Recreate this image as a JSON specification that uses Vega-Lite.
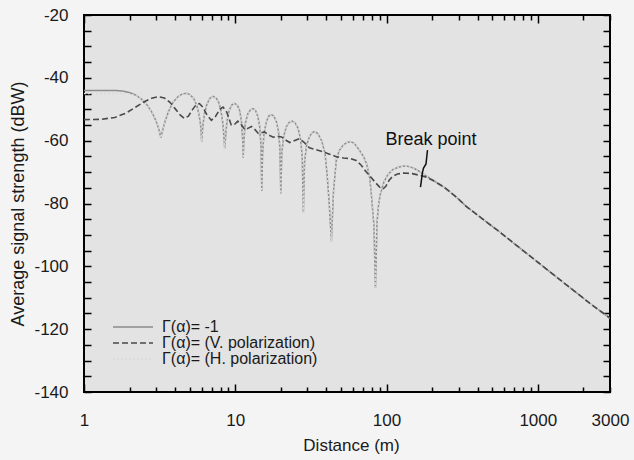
{
  "$schema": "https://vega.github.io/schema/vega-lite/v6.json",
  "width": 526,
  "height": 377,
  "autosize": {"type": "none"},
  "padding": {"left": 84, "top": 15, "right": 24, "bottom": 68},
  "background": "#f4f4f4",
  "config": {
    "font": "Liberation Sans",
    "view": {"fill": "#e3e3e3", "stroke": "#000000", "strokeWidth": 2},
    "axis": {"grid": false, "domain": false, "labelFont": "Liberation Sans", "titleFont": "Liberation Sans", "labelColor": "#1a1a1a", "titleColor": "#1a1a1a", "titleFontWeight": "normal", "tickColor": "#000000", "tickWidth": 1.5},
    "legend": {"orient": "none", "legendX": 41, "legendY": 304, "padding": 0, "symbolType": "M-4,0H4", "symbolSize": 100, "symbolStrokeWidth": 1.5, "labelFontSize": 16, "labelFont": "Liberation Sans", "labelColor": "#1a1a1a", "labelOffset": 21, "rowPadding": 0, "title": null}
  },
  "datasets": {
    "curves": [
      {"series": "Γ(α)= -1", "distance": 1, "power": -44},
      {"series": "Γ(α)= -1", "distance": 1.3, "power": -44},
      {"series": "Γ(α)= -1", "distance": 1.6, "power": -44},
      {"series": "Γ(α)= -1", "distance": 1.8, "power": -44.2},
      {"series": "Γ(α)= -1", "distance": 2.0, "power": -44.7},
      {"series": "Γ(α)= -1", "distance": 2.2, "power": -45.5},
      {"series": "Γ(α)= -1", "distance": 2.4, "power": -46.8},
      {"series": "Γ(α)= -1", "distance": 2.6, "power": -48.5},
      {"series": "Γ(α)= -1", "distance": 2.8, "power": -50.8},
      {"series": "Γ(α)= -1", "distance": 3.0, "power": -53.8},
      {"series": "Γ(α)= -1", "distance": 3.12, "power": -56.2},
      {"series": "Γ(α)= -1", "distance": 3.22, "power": -59},
      {"series": "Γ(α)= -1", "distance": 3.32, "power": -56.5},
      {"series": "Γ(α)= -1", "distance": 3.45, "power": -53.5},
      {"series": "Γ(α)= -1", "distance": 3.65, "power": -50.3},
      {"series": "Γ(α)= -1", "distance": 3.9, "power": -47.6},
      {"series": "Γ(α)= -1", "distance": 4.2, "power": -45.9},
      {"series": "Γ(α)= -1", "distance": 4.5, "power": -45.1},
      {"series": "Γ(α)= -1", "distance": 4.75, "power": -44.9},
      {"series": "Γ(α)= -1", "distance": 5.0, "power": -45.3},
      {"series": "Γ(α)= -1", "distance": 5.3, "power": -46.5},
      {"series": "Γ(α)= -1", "distance": 5.55, "power": -48.6},
      {"series": "Γ(α)= -1", "distance": 5.75, "power": -51.5},
      {"series": "Γ(α)= -1", "distance": 5.9, "power": -55},
      {"series": "Γ(α)= -1", "distance": 6.0, "power": -60.3},
      {"series": "Γ(α)= -1", "distance": 6.1, "power": -55.5},
      {"series": "Γ(α)= -1", "distance": 6.25, "power": -51.5},
      {"series": "Γ(α)= -1", "distance": 6.5, "power": -48.3},
      {"series": "Γ(α)= -1", "distance": 6.8, "power": -46.5},
      {"series": "Γ(α)= -1", "distance": 7.15, "power": -45.9},
      {"series": "Γ(α)= -1", "distance": 7.5, "power": -46.5},
      {"series": "Γ(α)= -1", "distance": 7.8, "power": -48},
      {"series": "Γ(α)= -1", "distance": 8.05, "power": -50.5},
      {"series": "Γ(α)= -1", "distance": 8.3, "power": -55},
      {"series": "Γ(α)= -1", "distance": 8.45, "power": -60},
      {"series": "Γ(α)= -1", "distance": 8.52, "power": -62.6},
      {"series": "Γ(α)= -1", "distance": 8.62, "power": -59},
      {"series": "Γ(α)= -1", "distance": 8.8, "power": -54},
      {"series": "Γ(α)= -1", "distance": 9.1, "power": -50.5},
      {"series": "Γ(α)= -1", "distance": 9.45, "power": -48.7},
      {"series": "Γ(α)= -1", "distance": 9.85, "power": -48.1},
      {"series": "Γ(α)= -1", "distance": 10.3, "power": -48.6},
      {"series": "Γ(α)= -1", "distance": 10.7, "power": -50.5},
      {"series": "Γ(α)= -1", "distance": 11.0, "power": -54},
      {"series": "Γ(α)= -1", "distance": 11.2, "power": -60},
      {"series": "Γ(α)= -1", "distance": 11.28, "power": -65.5},
      {"series": "Γ(α)= -1", "distance": 11.4, "power": -60},
      {"series": "Γ(α)= -1", "distance": 11.65, "power": -54.5},
      {"series": "Γ(α)= -1", "distance": 12.1, "power": -51.5},
      {"series": "Γ(α)= -1", "distance": 12.6, "power": -50.2},
      {"series": "Γ(α)= -1", "distance": 13.1, "power": -49.8},
      {"series": "Γ(α)= -1", "distance": 13.6, "power": -50.3},
      {"series": "Γ(α)= -1", "distance": 14.1, "power": -52.3},
      {"series": "Γ(α)= -1", "distance": 14.5, "power": -55.5},
      {"series": "Γ(α)= -1", "distance": 14.8, "power": -62},
      {"series": "Γ(α)= -1", "distance": 14.97, "power": -76},
      {"series": "Γ(α)= -1", "distance": 15.15, "power": -64},
      {"series": "Γ(α)= -1", "distance": 15.5, "power": -57.5},
      {"series": "Γ(α)= -1", "distance": 16.1, "power": -53.8},
      {"series": "Γ(α)= -1", "distance": 16.7, "power": -52.1},
      {"series": "Γ(α)= -1", "distance": 17.3, "power": -51.7},
      {"series": "Γ(α)= -1", "distance": 18.0, "power": -52.2},
      {"series": "Γ(α)= -1", "distance": 18.7, "power": -54},
      {"series": "Γ(α)= -1", "distance": 19.3, "power": -57},
      {"series": "Γ(α)= -1", "distance": 19.7, "power": -62},
      {"series": "Γ(α)= -1", "distance": 20.0, "power": -76.8},
      {"series": "Γ(α)= -1", "distance": 20.3, "power": -64},
      {"series": "Γ(α)= -1", "distance": 20.9, "power": -58.5},
      {"series": "Γ(α)= -1", "distance": 21.8, "power": -55.5},
      {"series": "Γ(α)= -1", "distance": 22.8, "power": -54.1},
      {"series": "Γ(α)= -1", "distance": 23.8, "power": -53.8},
      {"series": "Γ(α)= -1", "distance": 24.9, "power": -54.4},
      {"series": "Γ(α)= -1", "distance": 26.0, "power": -56},
      {"series": "Γ(α)= -1", "distance": 27.0, "power": -59.5},
      {"series": "Γ(α)= -1", "distance": 27.7, "power": -65},
      {"series": "Γ(α)= -1", "distance": 28.2, "power": -82.8},
      {"series": "Γ(α)= -1", "distance": 28.7, "power": -67},
      {"series": "Γ(α)= -1", "distance": 29.6, "power": -61.5},
      {"series": "Γ(α)= -1", "distance": 31.0, "power": -58.6},
      {"series": "Γ(α)= -1", "distance": 32.3, "power": -57.4},
      {"series": "Γ(α)= -1", "distance": 33.6, "power": -57.1},
      {"series": "Γ(α)= -1", "distance": 35.2, "power": -57.8},
      {"series": "Γ(α)= -1", "distance": 37.2, "power": -60},
      {"series": "Γ(α)= -1", "distance": 39.2, "power": -64},
      {"series": "Γ(α)= -1", "distance": 40.5, "power": -71},
      {"series": "Γ(α)= -1", "distance": 41.8, "power": -80},
      {"series": "Γ(α)= -1", "distance": 43.2, "power": -92.2},
      {"series": "Γ(α)= -1", "distance": 44.6, "power": -76},
      {"series": "Γ(α)= -1", "distance": 46.6, "power": -66},
      {"series": "Γ(α)= -1", "distance": 48.5, "power": -63.3},
      {"series": "Γ(α)= -1", "distance": 51.5, "power": -61.5},
      {"series": "Γ(α)= -1", "distance": 54.5, "power": -60.6},
      {"series": "Γ(α)= -1", "distance": 57.5, "power": -60.3},
      {"series": "Γ(α)= -1", "distance": 61, "power": -60.8},
      {"series": "Γ(α)= -1", "distance": 65, "power": -62.5},
      {"series": "Γ(α)= -1", "distance": 70, "power": -64.8},
      {"series": "Γ(α)= -1", "distance": 74, "power": -67.5},
      {"series": "Γ(α)= -1", "distance": 77.5, "power": -72},
      {"series": "Γ(α)= -1", "distance": 79.5, "power": -77.5},
      {"series": "Γ(α)= -1", "distance": 82.5, "power": -87},
      {"series": "Γ(α)= -1", "distance": 84.5, "power": -106.8},
      {"series": "Γ(α)= -1", "distance": 86.5, "power": -86},
      {"series": "Γ(α)= -1", "distance": 88.5, "power": -80.5},
      {"series": "Γ(α)= -1", "distance": 91, "power": -77},
      {"series": "Γ(α)= -1", "distance": 96, "power": -73.2},
      {"series": "Γ(α)= -1", "distance": 102, "power": -70.8},
      {"series": "Γ(α)= -1", "distance": 110, "power": -69.2},
      {"series": "Γ(α)= -1", "distance": 120, "power": -68.4},
      {"series": "Γ(α)= -1", "distance": 130, "power": -68.1},
      {"series": "Γ(α)= -1", "distance": 140, "power": -68.2},
      {"series": "Γ(α)= -1", "distance": 152, "power": -68.8},
      {"series": "Γ(α)= -1", "distance": 165, "power": -69.8},
      {"series": "Γ(α)= -1", "distance": 180, "power": -71},
      {"series": "Γ(α)= -1", "distance": 203, "power": -72.6},
      {"series": "Γ(α)= -1", "distance": 240, "power": -74.8},
      {"series": "Γ(α)= -1", "distance": 290, "power": -78},
      {"series": "Γ(α)= -1", "distance": 336, "power": -80.9},
      {"series": "Γ(α)= -1", "distance": 400, "power": -83.7},
      {"series": "Γ(α)= -1", "distance": 470, "power": -86.3},
      {"series": "Γ(α)= -1", "distance": 558, "power": -89},
      {"series": "Γ(α)= -1", "distance": 700, "power": -92.8},
      {"series": "Γ(α)= -1", "distance": 850, "power": -96},
      {"series": "Γ(α)= -1", "distance": 1000, "power": -98.7},
      {"series": "Γ(α)= -1", "distance": 1250, "power": -102.4},
      {"series": "Γ(α)= -1", "distance": 1500, "power": -105.4},
      {"series": "Γ(α)= -1", "distance": 1800, "power": -108.4},
      {"series": "Γ(α)= -1", "distance": 2200, "power": -111.7},
      {"series": "Γ(α)= -1", "distance": 2600, "power": -114.3},
      {"series": "Γ(α)= -1", "distance": 3000, "power": -116.5},

      {"series": "Γ(α)= (H. polarization)", "distance": 1, "power": -45},
      {"series": "Γ(α)= (H. polarization)", "distance": 1.3, "power": -45},
      {"series": "Γ(α)= (H. polarization)", "distance": 1.6, "power": -45},
      {"series": "Γ(α)= (H. polarization)", "distance": 1.8, "power": -45},
      {"series": "Γ(α)= (H. polarization)", "distance": 2.0, "power": -45.1},
      {"series": "Γ(α)= (H. polarization)", "distance": 2.2, "power": -45.6},
      {"series": "Γ(α)= (H. polarization)", "distance": 2.4, "power": -46.8},
      {"series": "Γ(α)= (H. polarization)", "distance": 2.6, "power": -48.5},
      {"series": "Γ(α)= (H. polarization)", "distance": 2.8, "power": -50.8},
      {"series": "Γ(α)= (H. polarization)", "distance": 3.0, "power": -53.8},
      {"series": "Γ(α)= (H. polarization)", "distance": 3.12, "power": -56.2},
      {"series": "Γ(α)= (H. polarization)", "distance": 3.22, "power": -59},
      {"series": "Γ(α)= (H. polarization)", "distance": 3.32, "power": -56.5},
      {"series": "Γ(α)= (H. polarization)", "distance": 3.45, "power": -53.5},
      {"series": "Γ(α)= (H. polarization)", "distance": 3.65, "power": -50.3},
      {"series": "Γ(α)= (H. polarization)", "distance": 3.9, "power": -47.6},
      {"series": "Γ(α)= (H. polarization)", "distance": 4.2, "power": -45.9},
      {"series": "Γ(α)= (H. polarization)", "distance": 4.5, "power": -45.1},
      {"series": "Γ(α)= (H. polarization)", "distance": 4.75, "power": -44.9},
      {"series": "Γ(α)= (H. polarization)", "distance": 5.0, "power": -45.3},
      {"series": "Γ(α)= (H. polarization)", "distance": 5.3, "power": -46.5},
      {"series": "Γ(α)= (H. polarization)", "distance": 5.55, "power": -48.6},
      {"series": "Γ(α)= (H. polarization)", "distance": 5.75, "power": -51.5},
      {"series": "Γ(α)= (H. polarization)", "distance": 5.9, "power": -55},
      {"series": "Γ(α)= (H. polarization)", "distance": 6.0, "power": -60.3},
      {"series": "Γ(α)= (H. polarization)", "distance": 6.1, "power": -55.5},
      {"series": "Γ(α)= (H. polarization)", "distance": 6.25, "power": -51.5},
      {"series": "Γ(α)= (H. polarization)", "distance": 6.5, "power": -48.3},
      {"series": "Γ(α)= (H. polarization)", "distance": 6.8, "power": -46.5},
      {"series": "Γ(α)= (H. polarization)", "distance": 7.15, "power": -45.9},
      {"series": "Γ(α)= (H. polarization)", "distance": 7.5, "power": -46.5},
      {"series": "Γ(α)= (H. polarization)", "distance": 7.8, "power": -48},
      {"series": "Γ(α)= (H. polarization)", "distance": 8.05, "power": -50.5},
      {"series": "Γ(α)= (H. polarization)", "distance": 8.3, "power": -55},
      {"series": "Γ(α)= (H. polarization)", "distance": 8.45, "power": -60},
      {"series": "Γ(α)= (H. polarization)", "distance": 8.52, "power": -62.6},
      {"series": "Γ(α)= (H. polarization)", "distance": 8.62, "power": -59},
      {"series": "Γ(α)= (H. polarization)", "distance": 8.8, "power": -54},
      {"series": "Γ(α)= (H. polarization)", "distance": 9.1, "power": -50.5},
      {"series": "Γ(α)= (H. polarization)", "distance": 9.45, "power": -48.7},
      {"series": "Γ(α)= (H. polarization)", "distance": 9.85, "power": -48.1},
      {"series": "Γ(α)= (H. polarization)", "distance": 10.3, "power": -48.6},
      {"series": "Γ(α)= (H. polarization)", "distance": 10.7, "power": -50.5},
      {"series": "Γ(α)= (H. polarization)", "distance": 11.0, "power": -54},
      {"series": "Γ(α)= (H. polarization)", "distance": 11.2, "power": -60},
      {"series": "Γ(α)= (H. polarization)", "distance": 11.28, "power": -65.5},
      {"series": "Γ(α)= (H. polarization)", "distance": 11.4, "power": -60},
      {"series": "Γ(α)= (H. polarization)", "distance": 11.65, "power": -54.5},
      {"series": "Γ(α)= (H. polarization)", "distance": 12.1, "power": -51.5},
      {"series": "Γ(α)= (H. polarization)", "distance": 12.6, "power": -50.2},
      {"series": "Γ(α)= (H. polarization)", "distance": 13.1, "power": -49.8},
      {"series": "Γ(α)= (H. polarization)", "distance": 13.6, "power": -50.3},
      {"series": "Γ(α)= (H. polarization)", "distance": 14.1, "power": -52.3},
      {"series": "Γ(α)= (H. polarization)", "distance": 14.5, "power": -55.5},
      {"series": "Γ(α)= (H. polarization)", "distance": 14.8, "power": -62},
      {"series": "Γ(α)= (H. polarization)", "distance": 14.97, "power": -76},
      {"series": "Γ(α)= (H. polarization)", "distance": 15.15, "power": -64},
      {"series": "Γ(α)= (H. polarization)", "distance": 15.5, "power": -57.5},
      {"series": "Γ(α)= (H. polarization)", "distance": 16.1, "power": -53.8},
      {"series": "Γ(α)= (H. polarization)", "distance": 16.7, "power": -52.1},
      {"series": "Γ(α)= (H. polarization)", "distance": 17.3, "power": -51.7},
      {"series": "Γ(α)= (H. polarization)", "distance": 18.0, "power": -52.2},
      {"series": "Γ(α)= (H. polarization)", "distance": 18.7, "power": -54},
      {"series": "Γ(α)= (H. polarization)", "distance": 19.3, "power": -57},
      {"series": "Γ(α)= (H. polarization)", "distance": 19.7, "power": -62},
      {"series": "Γ(α)= (H. polarization)", "distance": 20.0, "power": -76.8},
      {"series": "Γ(α)= (H. polarization)", "distance": 20.3, "power": -64},
      {"series": "Γ(α)= (H. polarization)", "distance": 20.9, "power": -58.5},
      {"series": "Γ(α)= (H. polarization)", "distance": 21.8, "power": -55.5},
      {"series": "Γ(α)= (H. polarization)", "distance": 22.8, "power": -54.1},
      {"series": "Γ(α)= (H. polarization)", "distance": 23.8, "power": -53.8},
      {"series": "Γ(α)= (H. polarization)", "distance": 24.9, "power": -54.4},
      {"series": "Γ(α)= (H. polarization)", "distance": 26.0, "power": -56},
      {"series": "Γ(α)= (H. polarization)", "distance": 27.0, "power": -59.5},
      {"series": "Γ(α)= (H. polarization)", "distance": 27.7, "power": -65},
      {"series": "Γ(α)= (H. polarization)", "distance": 28.2, "power": -82.8},
      {"series": "Γ(α)= (H. polarization)", "distance": 28.7, "power": -67},
      {"series": "Γ(α)= (H. polarization)", "distance": 29.6, "power": -61.5},
      {"series": "Γ(α)= (H. polarization)", "distance": 31.0, "power": -58.6},
      {"series": "Γ(α)= (H. polarization)", "distance": 32.3, "power": -57.4},
      {"series": "Γ(α)= (H. polarization)", "distance": 33.6, "power": -57.1},
      {"series": "Γ(α)= (H. polarization)", "distance": 35.2, "power": -57.8},
      {"series": "Γ(α)= (H. polarization)", "distance": 37.2, "power": -60},
      {"series": "Γ(α)= (H. polarization)", "distance": 39.2, "power": -64},
      {"series": "Γ(α)= (H. polarization)", "distance": 40.5, "power": -71},
      {"series": "Γ(α)= (H. polarization)", "distance": 41.8, "power": -80},
      {"series": "Γ(α)= (H. polarization)", "distance": 43.2, "power": -92.2},
      {"series": "Γ(α)= (H. polarization)", "distance": 44.6, "power": -76},
      {"series": "Γ(α)= (H. polarization)", "distance": 46.6, "power": -66},
      {"series": "Γ(α)= (H. polarization)", "distance": 48.5, "power": -63.3},
      {"series": "Γ(α)= (H. polarization)", "distance": 51.5, "power": -61.5},
      {"series": "Γ(α)= (H. polarization)", "distance": 54.5, "power": -60.6},
      {"series": "Γ(α)= (H. polarization)", "distance": 57.5, "power": -60.3},
      {"series": "Γ(α)= (H. polarization)", "distance": 61, "power": -60.8},
      {"series": "Γ(α)= (H. polarization)", "distance": 65, "power": -62.5},
      {"series": "Γ(α)= (H. polarization)", "distance": 70, "power": -64.8},
      {"series": "Γ(α)= (H. polarization)", "distance": 74, "power": -67.5},
      {"series": "Γ(α)= (H. polarization)", "distance": 77.5, "power": -72},
      {"series": "Γ(α)= (H. polarization)", "distance": 79.5, "power": -77.5},
      {"series": "Γ(α)= (H. polarization)", "distance": 82.5, "power": -87},
      {"series": "Γ(α)= (H. polarization)", "distance": 84.5, "power": -106.8},
      {"series": "Γ(α)= (H. polarization)", "distance": 86.5, "power": -86},
      {"series": "Γ(α)= (H. polarization)", "distance": 88.5, "power": -80.5},
      {"series": "Γ(α)= (H. polarization)", "distance": 91, "power": -77},
      {"series": "Γ(α)= (H. polarization)", "distance": 96, "power": -73.2},
      {"series": "Γ(α)= (H. polarization)", "distance": 102, "power": -70.8},
      {"series": "Γ(α)= (H. polarization)", "distance": 110, "power": -69.2},
      {"series": "Γ(α)= (H. polarization)", "distance": 120, "power": -68.4},
      {"series": "Γ(α)= (H. polarization)", "distance": 130, "power": -68.1},
      {"series": "Γ(α)= (H. polarization)", "distance": 140, "power": -68.2},
      {"series": "Γ(α)= (H. polarization)", "distance": 152, "power": -68.8},
      {"series": "Γ(α)= (H. polarization)", "distance": 165, "power": -69.8},
      {"series": "Γ(α)= (H. polarization)", "distance": 180, "power": -71},
      {"series": "Γ(α)= (H. polarization)", "distance": 203, "power": -72.6},
      {"series": "Γ(α)= (H. polarization)", "distance": 240, "power": -74.8},
      {"series": "Γ(α)= (H. polarization)", "distance": 290, "power": -78},
      {"series": "Γ(α)= (H. polarization)", "distance": 336, "power": -80.9},
      {"series": "Γ(α)= (H. polarization)", "distance": 400, "power": -83.7},
      {"series": "Γ(α)= (H. polarization)", "distance": 470, "power": -86.3},
      {"series": "Γ(α)= (H. polarization)", "distance": 558, "power": -89},
      {"series": "Γ(α)= (H. polarization)", "distance": 700, "power": -92.8},
      {"series": "Γ(α)= (H. polarization)", "distance": 850, "power": -96},
      {"series": "Γ(α)= (H. polarization)", "distance": 1000, "power": -98.7},
      {"series": "Γ(α)= (H. polarization)", "distance": 1250, "power": -102.4},
      {"series": "Γ(α)= (H. polarization)", "distance": 1500, "power": -105.4},
      {"series": "Γ(α)= (H. polarization)", "distance": 1800, "power": -108.4},
      {"series": "Γ(α)= (H. polarization)", "distance": 2200, "power": -111.7},
      {"series": "Γ(α)= (H. polarization)", "distance": 2600, "power": -114.3},
      {"series": "Γ(α)= (H. polarization)", "distance": 3000, "power": -116.5},

      {"series": "Γ(α)= (V. polarization)", "distance": 1, "power": -53.3},
      {"series": "Γ(α)= (V. polarization)", "distance": 1.3, "power": -53.2},
      {"series": "Γ(α)= (V. polarization)", "distance": 1.6, "power": -52.6},
      {"series": "Γ(α)= (V. polarization)", "distance": 1.9, "power": -51.2},
      {"series": "Γ(α)= (V. polarization)", "distance": 2.2, "power": -49.3},
      {"series": "Γ(α)= (V. polarization)", "distance": 2.5, "power": -47.6},
      {"series": "Γ(α)= (V. polarization)", "distance": 2.8, "power": -46.5},
      {"series": "Γ(α)= (V. polarization)", "distance": 3.1, "power": -46.0},
      {"series": "Γ(α)= (V. polarization)", "distance": 3.4, "power": -46.4},
      {"series": "Γ(α)= (V. polarization)", "distance": 3.7, "power": -47.8},
      {"series": "Γ(α)= (V. polarization)", "distance": 4.0, "power": -49.8},
      {"series": "Γ(α)= (V. polarization)", "distance": 4.3, "power": -51.7},
      {"series": "Γ(α)= (V. polarization)", "distance": 4.6, "power": -52.9},
      {"series": "Γ(α)= (V. polarization)", "distance": 4.9, "power": -52.2},
      {"series": "Γ(α)= (V. polarization)", "distance": 5.2, "power": -50.2},
      {"series": "Γ(α)= (V. polarization)", "distance": 5.5, "power": -48.6},
      {"series": "Γ(α)= (V. polarization)", "distance": 5.8, "power": -48.2},
      {"series": "Γ(α)= (V. polarization)", "distance": 6.1, "power": -49.3},
      {"series": "Γ(α)= (V. polarization)", "distance": 6.5, "power": -51.8},
      {"series": "Γ(α)= (V. polarization)", "distance": 6.95, "power": -53.5},
      {"series": "Γ(α)= (V. polarization)", "distance": 7.4, "power": -52.3},
      {"series": "Γ(α)= (V. polarization)", "distance": 7.9, "power": -50},
      {"series": "Γ(α)= (V. polarization)", "distance": 8.3, "power": -49.3},
      {"series": "Γ(α)= (V. polarization)", "distance": 8.8, "power": -51},
      {"series": "Γ(α)= (V. polarization)", "distance": 9.4, "power": -55},
      {"series": "Γ(α)= (V. polarization)", "distance": 9.9, "power": -54.8},
      {"series": "Γ(α)= (V. polarization)", "distance": 10.4, "power": -53.8},
      {"series": "Γ(α)= (V. polarization)", "distance": 11.0, "power": -55},
      {"series": "Γ(α)= (V. polarization)", "distance": 11.6, "power": -56.5},
      {"series": "Γ(α)= (V. polarization)", "distance": 12.2, "power": -56},
      {"series": "Γ(α)= (V. polarization)", "distance": 12.8, "power": -55.5},
      {"series": "Γ(α)= (V. polarization)", "distance": 13.5, "power": -56.5},
      {"series": "Γ(α)= (V. polarization)", "distance": 14.2, "power": -57.7},
      {"series": "Γ(α)= (V. polarization)", "distance": 14.9, "power": -57.5},
      {"series": "Γ(α)= (V. polarization)", "distance": 15.6, "power": -57.2},
      {"series": "Γ(α)= (V. polarization)", "distance": 16.6, "power": -58.2},
      {"series": "Γ(α)= (V. polarization)", "distance": 17.8, "power": -58.9},
      {"series": "Γ(α)= (V. polarization)", "distance": 19.0, "power": -58.6},
      {"series": "Γ(α)= (V. polarization)", "distance": 20.2, "power": -58.8},
      {"series": "Γ(α)= (V. polarization)", "distance": 21.5, "power": -59.8},
      {"series": "Γ(α)= (V. polarization)", "distance": 22.9, "power": -60.6},
      {"series": "Γ(α)= (V. polarization)", "distance": 24.5, "power": -60},
      {"series": "Γ(α)= (V. polarization)", "distance": 26.5, "power": -59.4},
      {"series": "Γ(α)= (V. polarization)", "distance": 28.5, "power": -60.5},
      {"series": "Γ(α)= (V. polarization)", "distance": 30.9, "power": -62.3},
      {"series": "Γ(α)= (V. polarization)", "distance": 34, "power": -62.8},
      {"series": "Γ(α)= (V. polarization)", "distance": 38, "power": -63.5},
      {"series": "Γ(α)= (V. polarization)", "distance": 42, "power": -64.3},
      {"series": "Γ(α)= (V. polarization)", "distance": 46.6, "power": -65.1},
      {"series": "Γ(α)= (V. polarization)", "distance": 52, "power": -65.5},
      {"series": "Γ(α)= (V. polarization)", "distance": 58, "power": -65.7},
      {"series": "Γ(α)= (V. polarization)", "distance": 63, "power": -66.3},
      {"series": "Γ(α)= (V. polarization)", "distance": 68, "power": -67.8},
      {"series": "Γ(α)= (V. polarization)", "distance": 73, "power": -69.8},
      {"series": "Γ(α)= (V. polarization)", "distance": 78, "power": -71.4},
      {"series": "Γ(α)= (V. polarization)", "distance": 85, "power": -73.5},
      {"series": "Γ(α)= (V. polarization)", "distance": 90, "power": -74.8},
      {"series": "Γ(α)= (V. polarization)", "distance": 94.6, "power": -75.4},
      {"series": "Γ(α)= (V. polarization)", "distance": 99, "power": -74.5},
      {"series": "Γ(α)= (V. polarization)", "distance": 104, "power": -72.6},
      {"series": "Γ(α)= (V. polarization)", "distance": 110, "power": -71.3},
      {"series": "Γ(α)= (V. polarization)", "distance": 118, "power": -70.6},
      {"series": "Γ(α)= (V. polarization)", "distance": 130, "power": -70.3},
      {"series": "Γ(α)= (V. polarization)", "distance": 148, "power": -70.5},
      {"series": "Γ(α)= (V. polarization)", "distance": 165, "power": -71},
      {"series": "Γ(α)= (V. polarization)", "distance": 183, "power": -71.6},
      {"series": "Γ(α)= (V. polarization)", "distance": 203, "power": -72.7},
      {"series": "Γ(α)= (V. polarization)", "distance": 240, "power": -74.8},
      {"series": "Γ(α)= (V. polarization)", "distance": 290, "power": -78},
      {"series": "Γ(α)= (V. polarization)", "distance": 336, "power": -80.9},
      {"series": "Γ(α)= (V. polarization)", "distance": 400, "power": -83.7},
      {"series": "Γ(α)= (V. polarization)", "distance": 470, "power": -86.3},
      {"series": "Γ(α)= (V. polarization)", "distance": 558, "power": -89},
      {"series": "Γ(α)= (V. polarization)", "distance": 700, "power": -92.8},
      {"series": "Γ(α)= (V. polarization)", "distance": 850, "power": -96},
      {"series": "Γ(α)= (V. polarization)", "distance": 1000, "power": -98.7},
      {"series": "Γ(α)= (V. polarization)", "distance": 1250, "power": -102.4},
      {"series": "Γ(α)= (V. polarization)", "distance": 1500, "power": -105.4},
      {"series": "Γ(α)= (V. polarization)", "distance": 1800, "power": -108.4},
      {"series": "Γ(α)= (V. polarization)", "distance": 2200, "power": -111.7},
      {"series": "Γ(α)= (V. polarization)", "distance": 2600, "power": -114.3},
      {"series": "Γ(α)= (V. polarization)", "distance": 3000, "power": -116.5}
    ],
    "pointer": [
      {"distance": 186.5, "power": -63.0},
      {"distance": 182.3, "power": -67.4},
      {"distance": 175.5, "power": -68.7},
      {"distance": 172.9, "power": -70.0},
      {"distance": 167.6, "power": -74.8}
    ],
    "notes": [
      {"distance": 196.7, "power": -59.8, "text": "Break point"}
    ]
  },
  "resolve": {"axis": {"x": "independent", "y": "independent"}},
  "layer": [
    {
      "data": {"name": "curves"},
      "transform": [{"filter": "datum.series == 'Γ(α)= -1'"}],
      "mark": {"type": "line", "strokeWidth": 1.5, "clip": true},
      "encoding": {
        "x": {"field": "distance", "type": "quantitative", "scale": {"type": "log", "domain": [1, 3000], "nice": false},
          "axis": {"orient": "bottom", "values": [1, 10, 100, 1000, 3000], "labelExpr": "'' + datum.value", "ticks": false, "labelPadding": 20, "labelFontSize": 17, "labelFlush": false, "title": "Distance (m)", "titleFontSize": 17, "titleX": 267, "titleY": 53, "titleBaseline": "middle", "titleAlign": "center"}},
        "y": {"field": "power", "type": "quantitative", "scale": {"domain": [-140, -20], "nice": false, "zero": false},
          "axis": {"orient": "left", "values": [-140, -120, -100, -80, -60, -40, -20], "labelExpr": "'' + datum.value", "ticks": false, "labelPadding": 16, "labelFontSize": 17, "labelFlush": false, "title": "Average signal strength (dBW)", "titleFontSize": 18, "titleX": -66, "titleY": 188.5, "titleAngle": -90, "titleBaseline": "middle", "titleAlign": "center"}},
        "color": {"field": "series", "type": "nominal", "scale": {"domain": ["Γ(α)= -1", "Γ(α)= (V. polarization)", "Γ(α)= (H. polarization)"], "range": ["#8c8c8c", "#4a4a4a", "#dadada"]}},
        "strokeDash": {"field": "series", "type": "nominal", "scale": {"domain": ["Γ(α)= -1", "Γ(α)= (V. polarization)", "Γ(α)= (H. polarization)"], "range": [[1, 0], [6, 3], [2, 2]]}}
      }
    },
    {
      "data": {"name": "curves"},
      "transform": [{"filter": "datum.series == 'Γ(α)= (H. polarization)'"}],
      "mark": {"type": "line", "strokeWidth": 1.5, "clip": true},
      "encoding": {
        "x": {"field": "distance", "type": "quantitative", "axis": null},
        "y": {"field": "power", "type": "quantitative", "axis": null},
        "color": {"field": "series", "type": "nominal"},
        "strokeDash": {"field": "series", "type": "nominal"}
      }
    },
    {
      "data": {"name": "curves"},
      "transform": [{"filter": "datum.series == 'Γ(α)= (V. polarization)'"}],
      "mark": {"type": "line", "strokeWidth": 1.6, "clip": true},
      "encoding": {
        "x": {"field": "distance", "type": "quantitative", "axis": null},
        "y": {"field": "power", "type": "quantitative", "axis": null},
        "color": {"field": "series", "type": "nominal"},
        "strokeDash": {"field": "series", "type": "nominal"}
      }
    },
    {
      "data": {"name": "pointer"},
      "mark": {"type": "line", "color": "#111111", "strokeWidth": 1.5},
      "encoding": {
        "x": {"field": "distance", "type": "quantitative", "axis": {"orient": "bottom", "values": [1,2,3,4,5,6,7,8,9,10,20,30,40,50,60,70,80,90,100,200,300,400,500,600,700,800,900,1000,2000,3000], "labels": false, "title": null, "tickSize": {"condition": {"test": "datum.value == 1 || datum.value == 10 || datum.value == 100 || datum.value == 1000", "value": -8}, "value": -5}}},
        "y": {"field": "power", "type": "quantitative", "axis": {"orient": "left", "values": [-140,-135,-130,-125,-120,-115,-110,-105,-100,-95,-90,-85,-80,-75,-70,-65,-60,-55,-50,-45,-40,-35,-30,-25,-20], "labels": false, "title": null, "tickSize": -7}},
        "order": {"field": "distance", "type": "quantitative", "sort": "descending"}
      }
    },
    {
      "data": {"name": "notes"},
      "mark": {"type": "text", "fontSize": 18, "color": "#111111", "align": "center", "baseline": "middle"},
      "encoding": {
        "x": {"field": "distance", "type": "quantitative", "axis": {"orient": "top", "values": [1,2,3,4,5,6,7,8,9,10,20,30,40,50,60,70,80,90,100,200,300,400,500,600,700,800,900,1000,2000,3000], "labels": false, "title": null, "tickSize": {"condition": {"test": "datum.value == 1 || datum.value == 10 || datum.value == 100 || datum.value == 1000", "value": -8}, "value": -5}}},
        "y": {"field": "power", "type": "quantitative", "axis": {"orient": "right", "values": [-140,-135,-130,-125,-120,-115,-110,-105,-100,-95,-90,-85,-80,-75,-70,-65,-60,-55,-50,-45,-40,-35,-30,-25,-20], "labels": false, "title": null, "tickSize": -7}},
        "text": {"field": "text"}
      }
    }
  ]
}
